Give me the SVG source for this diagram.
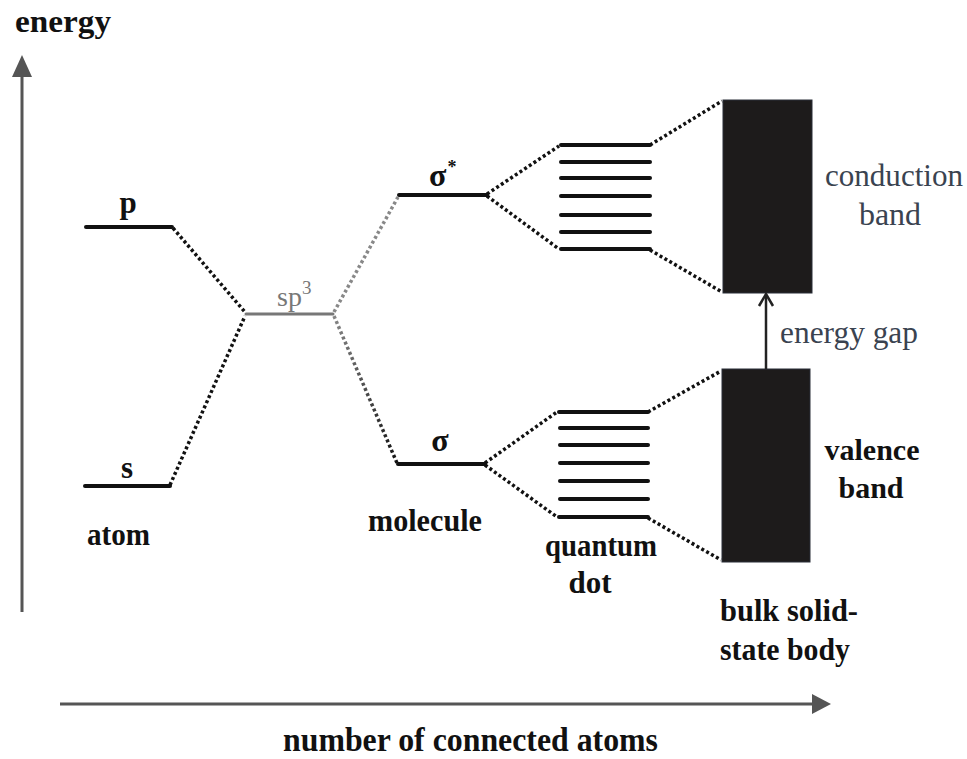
<svg xmlns="http://www.w3.org/2000/svg" width="967" height="759" viewBox="0 0 967 759">
  <style>
    .lbl { font-family: "Liberation Serif", "Times New Roman", serif; fill: #111; }
    .bold { font-weight: bold; }
    .blue { fill: #3a4350; }
    .level { stroke: #111; stroke-width: 4; stroke-linecap: round; fill: none; }
    .dots { stroke: #111; stroke-width: 3.5; stroke-dasharray: 3 2.6; fill: none; }
    .axis { stroke: #555; stroke-width: 3; fill: none; }
    .band { fill: #1d1b1b; stroke: #2a2f38; stroke-width: 1; }
  </style>
  <defs>
    <linearGradient id="fadeDown" gradientUnits="userSpaceOnUse" x1="333" y1="314" x2="397" y2="464">
      <stop offset="0" stop-color="#888"/>
      <stop offset="1" stop-color="#111"/>
    </linearGradient>
  </defs>
  <rect width="967" height="759" fill="#fff"/>

  <!-- axes -->
  <g id="axes">
    <line class="axis" x1="22" y1="612" x2="22" y2="74"/>
    <polygon points="12,77 22,55 32,77" fill="#555"/>
    <line class="axis" x1="60" y1="704" x2="814" y2="704"/>
    <polygon points="812,694 831,704 812,714" fill="#555"/>
    <text class="lbl bold" x="15" y="32" font-size="32" textLength="96" lengthAdjust="spacingAndGlyphs">energy</text>
    <text class="lbl bold" x="283" y="751" font-size="33" textLength="375" lengthAdjust="spacingAndGlyphs">number of connected atoms</text>
  </g>

  <!-- connectors between levels -->
  <g id="connectors">
    <line class="dots" x1="173" y1="228" x2="245" y2="312"/>
    <line class="dots" x1="170" y1="485" x2="245" y2="316"/>
    <line class="dots" x1="334" y1="312" x2="398" y2="197" style="stroke:#888"/>
    <line class="dots" x1="334" y1="316" x2="397" y2="463" style="stroke:url(#fadeDown)"/>
    <line class="dots" x1="487" y1="194" x2="559" y2="146"/>
    <line class="dots" x1="487" y1="196" x2="559" y2="249"/>
    <line class="dots" x1="485" y1="463" x2="557" y2="412"/>
    <line class="dots" x1="485" y1="465" x2="557" y2="517"/>
    <line class="dots" x1="650" y1="145" x2="722" y2="101"/>
    <line class="dots" x1="650" y1="250" x2="722" y2="292"/>
    <line class="dots" x1="648" y1="412" x2="721" y2="371"/>
    <line class="dots" x1="648" y1="518" x2="721" y2="560"/>
  </g>

  <!-- atom -->
  <g id="atom">
    <line class="level" x1="86" y1="227" x2="172" y2="227"/>
    <text class="lbl bold" x="128" y="213" font-size="31" text-anchor="middle">p</text>
    <line class="level" x1="85" y1="486" x2="170" y2="486"/>
    <text class="lbl bold" x="127" y="478" font-size="31" text-anchor="middle">s</text>
    <text class="lbl bold" x="87" y="545" font-size="31" textLength="63" lengthAdjust="spacingAndGlyphs">atom</text>
  </g>

  <!-- hybrid orbital -->
  <g id="sp3">
    <line x1="246" y1="314" x2="333" y2="314" stroke="#777" stroke-width="3" stroke-linecap="round"/>
    <text class="lbl" x="277" y="306" font-size="28" style="fill:#777">sp<tspan dy="-12" font-size="19">3</tspan></text>
  </g>

  <!-- molecule -->
  <g id="molecule">
    <line class="level" x1="399" y1="195" x2="487" y2="195"/>
    <text class="lbl bold" x="429" y="186" font-size="32">σ<tspan dx="1" dy="-13" font-size="18">*</tspan></text>
    <line class="level" x1="398" y1="464" x2="485" y2="464"/>
    <text class="lbl bold" x="440" y="451" font-size="32" text-anchor="middle">σ</text>
    <text class="lbl bold" x="368" y="531" font-size="31" textLength="114" lengthAdjust="spacingAndGlyphs">molecule</text>
  </g>

  <!-- quantum dot -->
  <g id="quantum-dot">
    <g class="level">
      <line x1="561" y1="145" x2="650" y2="145"/>
      <line x1="561" y1="162" x2="650" y2="162"/>
      <line x1="561" y1="178" x2="650" y2="178"/>
      <line x1="561" y1="196" x2="650" y2="196"/>
      <line x1="561" y1="215" x2="650" y2="215"/>
      <line x1="561" y1="232" x2="650" y2="232"/>
      <line x1="561" y1="249" x2="650" y2="249"/>
      <line x1="559" y1="412" x2="648" y2="412"/>
      <line x1="560" y1="428" x2="648" y2="428"/>
      <line x1="560" y1="445" x2="648" y2="445"/>
      <line x1="560" y1="463" x2="648" y2="463"/>
      <line x1="560" y1="481" x2="648" y2="481"/>
      <line x1="560" y1="499" x2="648" y2="499"/>
      <line x1="559" y1="517" x2="648" y2="517"/>
    </g>
    <text class="lbl bold" x="545" y="556" font-size="31" textLength="112" lengthAdjust="spacingAndGlyphs">quantum</text>
    <text class="lbl bold" x="590" y="593" font-size="31" text-anchor="middle">dot</text>
  </g>

  <!-- bulk solid-state body -->
  <g id="bulk">
    <rect class="band" x="723" y="100" width="89" height="193"/>
    <rect class="band" x="722" y="369" width="88" height="193"/>
    <line x1="766" y1="369" x2="766" y2="295" stroke="#222" stroke-width="2.5"/>
    <polyline points="759,306 766,294 773,306" stroke="#222" stroke-width="2.5" fill="none"/>
    <text class="lbl blue" x="894" y="186" font-size="32" text-anchor="middle" textLength="138" lengthAdjust="spacingAndGlyphs">conduction</text>
    <text class="lbl blue" x="890" y="225" font-size="32" text-anchor="middle">band</text>
    <text class="lbl blue" x="780" y="343" font-size="32" textLength="138" lengthAdjust="spacingAndGlyphs">energy gap</text>
    <text class="lbl bold" x="872" y="460" font-size="30" text-anchor="middle" textLength="95" lengthAdjust="spacingAndGlyphs">valence</text>
    <text class="lbl bold" x="871" y="498" font-size="30" text-anchor="middle">band</text>
    <text class="lbl bold" x="720" y="621" font-size="31" textLength="138" lengthAdjust="spacingAndGlyphs">bulk solid-</text>
    <text class="lbl bold" x="720" y="660" font-size="31" textLength="130" lengthAdjust="spacingAndGlyphs">state body</text>
  </g>
</svg>
